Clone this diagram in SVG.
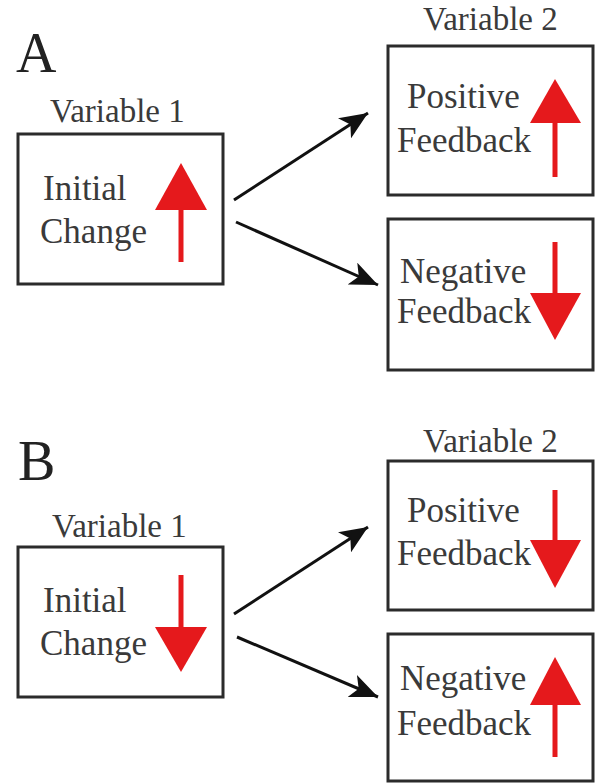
<svg xmlns="http://www.w3.org/2000/svg" width="596" height="784" viewBox="0 0 596 784">
<style>
.box{fill:#ffffff;stroke:#2b2b2b;stroke-width:3}
.lbl{font-family:'Liberation Serif','Times New Roman','DejaVu Serif',serif;font-size:33px;fill:#3a3a3a}
.txt{font-family:'Liberation Serif','Times New Roman','DejaVu Serif',serif;font-size:35px;fill:#3a3a3a}
.big{font-family:'Liberation Serif','Times New Roman','DejaVu Serif',serif;font-size:56px;fill:#222}
.shaft{stroke:#e5191c;stroke-width:5;fill:none}
.head{fill:#e5191c}
.conn{stroke:#111;stroke-width:3;fill:none}
</style>
<defs>
<marker id="ah" markerUnits="userSpaceOnUse" markerWidth="30" markerHeight="24" refX="28" refY="12" orient="auto">
<path d="M0,0 L28,12 L0,24 L7,12 Z" fill="#111"/>
</marker>
</defs>
<rect width="596" height="784" fill="#ffffff"/>
<text class="big" x="16" y="72">A</text>
<text class="big" x="18" y="480">B</text>
<g id="a-var1">
<text class="lbl" x="50" y="122">Variable 1</text>
<rect class="box" x="18" y="134" width="205" height="150"/>
<text class="txt" x="43" y="200">Initial</text>
<text class="txt" x="40" y="243">Change</text>
<line class="shaft" x1="181" y1="262" x2="181" y2="205"/>
<polygon class="head" points="181,163 207,210 155,210"/>
</g>
<g id="a-pos">
<text class="lbl" x="423" y="30">Variable 2</text>
<rect class="box" x="388" y="46" width="205" height="149"/>
<text class="txt" x="407" y="108">Positive</text>
<text class="txt" x="397" y="152">Feedback</text>
<line class="shaft" x1="555" y1="177" x2="555" y2="118"/>
<polygon class="head" points="555,79 581,123 530,123"/>
</g>
<g id="a-neg">
<rect class="box" x="388" y="219" width="205" height="151"/>
<text class="txt" x="400" y="283">Negative</text>
<text class="txt" x="397" y="323">Feedback</text>
<line class="shaft" x1="555" y1="242" x2="555" y2="298"/>
<polygon class="head" points="555,340 581,293 530,293"/>
</g>
<g id="b-var1">
<text class="lbl" x="52" y="537">Variable 1</text>
<rect class="box" x="18" y="547" width="205" height="150"/>
<text class="txt" x="43" y="612">Initial</text>
<text class="txt" x="40" y="655">Change</text>
<line class="shaft" x1="181" y1="575" x2="181" y2="632"/>
<polygon class="head" points="181,672 207,627 155,627"/>
</g>
<g id="b-pos">
<text class="lbl" x="423" y="452">Variable 2</text>
<rect class="box" x="388" y="461" width="205" height="149"/>
<text class="txt" x="407" y="522">Positive</text>
<text class="txt" x="397" y="565">Feedback</text>
<line class="shaft" x1="555" y1="490" x2="555" y2="545"/>
<polygon class="head" points="555,588 581,540 530,540"/>
</g>
<g id="b-neg">
<rect class="box" x="388" y="634" width="205" height="147"/>
<text class="txt" x="400" y="690">Negative</text>
<text class="txt" x="397" y="735">Feedback</text>
<line class="shaft" x1="555" y1="757" x2="555" y2="700"/>
<polygon class="head" points="555,657 581,705 530,705"/>
</g>
<g id="connectors">
<line class="conn" x1="234" y1="200" x2="368" y2="113" marker-end="url(#ah)"/>
<line class="conn" x1="236" y1="222" x2="378" y2="285" marker-end="url(#ah)"/>
<line class="conn" x1="234" y1="614" x2="368" y2="527" marker-end="url(#ah)"/>
<line class="conn" x1="237" y1="637" x2="378" y2="697" marker-end="url(#ah)"/>
</g>
</svg>
